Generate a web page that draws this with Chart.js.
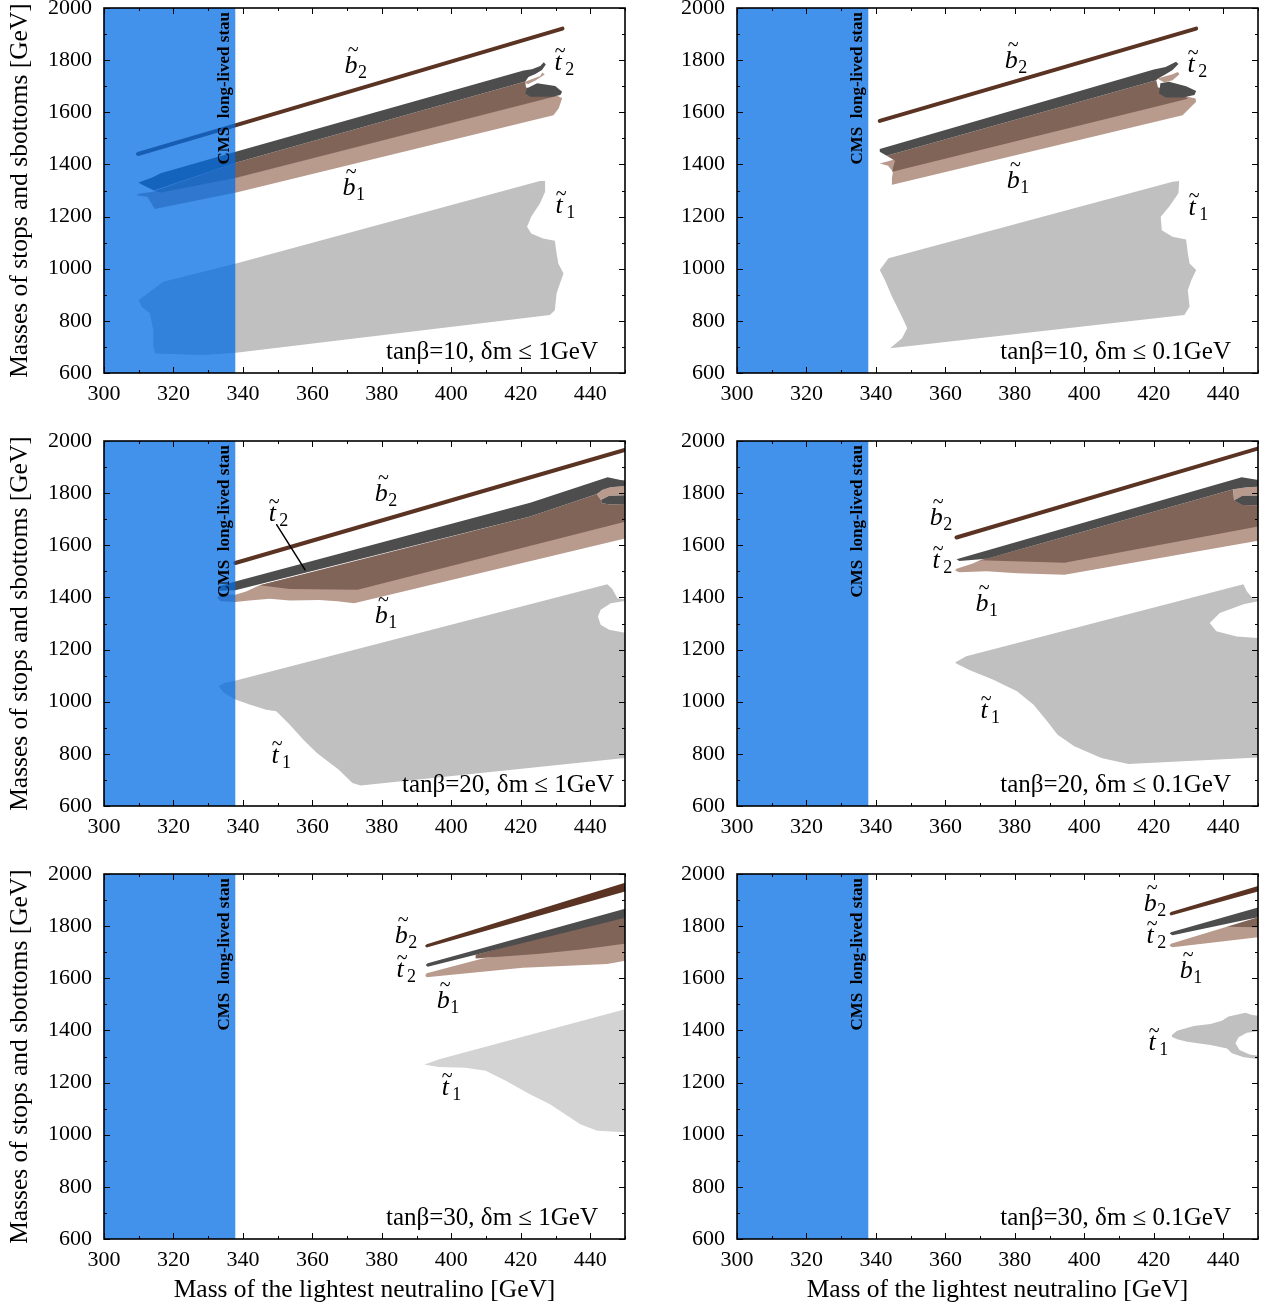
<!DOCTYPE html>
<html>
<head>
<meta charset="utf-8">
<script src="https://cdn.jsdelivr.net/npm/chart.js@4.4.1/dist/chart.umd.min.js"></script>
<style>
  body { margin: 0; background: #fff; width: 1282px; height: 1309px; position: relative; overflow: hidden; }
  .panel { position: absolute; width: 640px; }
</style>
</head>
<body>
<div class="panel" style="left:0;top:0"><canvas id="c1" width="640" height="433"></canvas></div>
<div class="panel" style="left:633px;top:0"><canvas id="c2" width="640" height="433"></canvas></div>
<div class="panel" style="left:0;top:433px"><canvas id="c3" width="640" height="433"></canvas></div>
<div class="panel" style="left:633px;top:433px"><canvas id="c4" width="640" height="433"></canvas></div>
<div class="panel" style="left:0;top:866px"><canvas id="c5" width="640" height="443"></canvas></div>
<div class="panel" style="left:633px;top:866px"><canvas id="c6" width="640" height="443"></canvas></div>
<script>
// axes
var xTicks = [300, 320, 340, 360, 380, 400, 420, 440];
var yTicks = [600, 800, 1000, 1200, 1400, 1600, 1800, 2000];
var cmsEdge = 337.8;
var cmsExcluded = [[290, 580], [cmsEdge, 580], [cmsEdge, 2020], [290, 2020]];

// tanβ=10, δm ≤ 1GeV
var p1Sbottom2 = [[309.8, 1440], [337.8, 1550], [432.0, 1921]];
var p1Stop2 = [[309.9, 1331], [313.9, 1350], [316.3, 1366], [338.4, 1451], [420.8, 1760], [423.2, 1765], [425.6, 1778], [426.6, 1792], [427.2, 1783], [426.1, 1762], [424.2, 1747], [422.2, 1735], [421.3, 1718], [338.4, 1408], [314.4, 1300], [311.0, 1322]];
var p1Stop2Lobe = [[421.3, 1673], [421.8, 1692], [424.7, 1711], [429.9, 1701], [431.9, 1679], [431.4, 1666], [429.0, 1660], [422.7, 1660]];
var p1Overlap = [[314.4, 1298], [338.4, 1408], [421.3, 1718], [421.5, 1695], [428.0, 1680], [430.4, 1662], [338.4, 1350], [316.5, 1292]];
var p1Sbottom1 = [[309.6, 1287], [309.6, 1281], [312.5, 1276], [313.9, 1244], [314.6, 1229], [338.4, 1293], [429.4, 1589], [430.9, 1615], [431.9, 1654], [430.4, 1664], [338.4, 1352], [314.4, 1296]];
var p1Sbottom1Wisp = [[421.0, 1716], [425.6, 1739], [426.2, 1753], [426.9, 1745], [424.2, 1722], [422.0, 1708]];
var p1Stop1 = [[310.0, 880], [317.1, 950], [338.0, 1020], [425.5, 1336], [427.0, 1336], [427.0, 1295], [425.5, 1250], [423.0, 1199], [421.8, 1161], [423.0, 1135], [426.4, 1116], [429.8, 1107], [430.3, 1059], [430.8, 1020], [432.3, 982], [431.3, 944], [430.3, 905], [429.8, 841], [428.4, 822], [338.0, 678], [328.3, 669], [314.7, 675], [314.2, 701], [314.2, 765], [313.2, 829], [310.8, 854]];
var p1Labels = [['b', '2', 372.3, 1781], ['t', '2', 431.9, 1793], ['b', '1', 371.7, 1313], ['t', '1', 432.2, 1244]];

// tanβ=10, δm ≤ 0.1GeV
var p2Sbottom2 = [[341.1, 1567], [432.2, 1921]];
var p2Stop2 = [[341.1, 1459], [420.0, 1764], [423.4, 1774], [426.4, 1794], [427.1, 1785], [425.4, 1762], [423.4, 1746], [421.2, 1730], [420.7, 1723], [343.1, 1433], [341.1, 1449]];
var p2Stop2Lobe = [[421.5, 1672], [421.9, 1711], [424.4, 1717], [429.3, 1700], [432.2, 1682], [431.7, 1666], [428.3, 1657], [423.4, 1657]];
var p2Overlap = [[343.1, 1433], [420.7, 1723], [421.2, 1695], [428.0, 1675], [429.8, 1652], [344.7, 1372], [345.0, 1391], [345.5, 1414]];
var p2Sbottom1 = [[341.1, 1404], [343.5, 1412], [420.0, 1700], [429.8, 1660], [432.0, 1653], [432.2, 1640], [428.3, 1589], [344.4, 1321], [344.6, 1347], [344.9, 1372], [343.5, 1395]];
var p2Sbottom1Wisp = [[421.0, 1730], [425.4, 1746], [426.9, 1755], [427.4, 1746], [425.4, 1723], [423.0, 1714]];
var p2Stop1 = [[341.1, 995], [343.6, 1040], [425.4, 1334], [427.3, 1336], [427.1, 1289], [424.4, 1238], [422.0, 1199], [422.3, 1148], [425.4, 1123], [429.3, 1112], [429.8, 1059], [430.3, 1020], [432.2, 995], [430.8, 956], [429.8, 918], [430.3, 854], [428.8, 822], [344.1, 695], [347.5, 733], [349.0, 772], [347.5, 816], [344.6, 893], [342.6, 956]];
var p2Labels = [['b', '2', 380.1, 1801], ['t', '2', 431.9, 1785], ['b', '1', 380.7, 1340], ['t', '1', 432.2, 1237]];

// tanβ=20, δm ≤ 1GeV
var p3Sbottom2 = [[337.8, 1532], [452, 1974]];
var p3Pointer = [[349.7, 1679], [357.9, 1506]];
var p3Stop2 = [[333.1, 1443], [337.8, 1461], [422.7, 1763], [445.0, 1861], [448.7, 1850], [452, 1846], [452, 1829], [445.8, 1823], [443.4, 1812], [441.9, 1797], [422.7, 1710], [337.8, 1428], [333.1, 1426]];
var p3Stop2Lobe = [[443.1, 1774], [445.3, 1789], [452, 1793], [452, 1760], [445.8, 1756], [443.4, 1761]];
var p3Sbottom1Wisp = [[441.9, 1797], [443.4, 1812], [445.8, 1823], [452, 1829], [452, 1793], [445.3, 1789], [443.1, 1774]];
var p3Overlap = [[344.8, 1447], [422.7, 1710], [441.9, 1797], [443.1, 1774], [443.4, 1761], [445.8, 1756], [452, 1760], [452, 1697], [373.0, 1429], [353.5, 1432]];
var p3Sbottom1 = [[332.5, 1399], [333.6, 1413], [337.8, 1410], [340.9, 1423], [344.8, 1447], [422.7, 1700], [452, 1720], [452, 1632], [372.0, 1378], [367.2, 1385], [361.9, 1390], [353.5, 1388], [347.7, 1395], [341.9, 1388], [337.8, 1382], [333.6, 1385]];
var p3Stop1 = [[333.0, 1059], [334.6, 1072], [338.0, 1081], [444.9, 1451], [446.3, 1433], [447.8, 1397], [452, 1390], [445.9, 1378], [443.0, 1353], [442.2, 1327], [443.0, 1295], [445.4, 1276], [452, 1259], [452, 787], [373.9, 679], [371.5, 688], [367.6, 739], [361.3, 803], [357.4, 854], [353.5, 912], [349.6, 963], [346.7, 969], [341.9, 989], [338.0, 1008], [334.6, 1033]];
var p3Labels = [['t', '2', 349.6, 1724], ['b', '2', 381.0, 1801], ['b', '1', 381.0, 1333], ['t', '1', 350.4, 796]];

// tanβ=20, δm ≤ 0.1GeV
var p4Sbottom2 = [[363.2, 1630], [452, 1979]];
var p4Stop2 = [[363.2, 1546], [445.3, 1861], [449.7, 1851], [452, 1849], [452, 1826], [446.8, 1823], [442.9, 1815], [371.9, 1548], [364.0, 1540]];
var p4Stop2Lobe = [[443.1, 1772], [445.5, 1790], [452, 1790], [452, 1753], [445.5, 1755]];
var p4Sbottom1Wisp = [[442.9, 1815], [446.8, 1823], [452, 1826], [452, 1790], [445.5, 1790], [443.1, 1772]];
var p4Overlap = [[369.9, 1543], [371.9, 1548], [442.9, 1815], [443.1, 1772], [445.5, 1755], [452, 1753], [452, 1677], [394.3, 1533]];
var p4Sbottom1 = [[363.2, 1510], [367.9, 1530], [369.9, 1543], [440.0, 1790], [452, 1720], [452, 1622], [394.3, 1487], [380.6, 1493], [371.9, 1500], [364.0, 1497], [362.8, 1503]];
var p4Stop1 = [[362.8, 1150], [366.0, 1174], [445.8, 1451], [446.8, 1423], [448.5, 1397], [452, 1391], [445.8, 1374], [439.0, 1340], [436.1, 1302], [438.0, 1270], [443.9, 1250], [452, 1242], [452, 787], [412.7, 761], [404.9, 784], [397.1, 829], [392.3, 873], [389.3, 925], [385.4, 988], [380.6, 1040], [373.8, 1084], [366.9, 1122], [363.4, 1145]];
var p4Labels = [['b', '2', 358.5, 1708], ['t', '2', 358.5, 1544], ['b', '1', 371.7, 1379], ['t', '1', 372.3, 968]];

// tanβ=30, δm ≤ 1GeV
var p5Sbottom2 = [[392.4, 1724], [392.9, 1731], [452, 1975], [452, 1940], [392.9, 1718]];
var p5Stop2 = [[392.6, 1651], [393.2, 1658], [452, 1874], [452, 1839], [407.0, 1690], [393.2, 1644]];
var p5Overlap = [[407.0, 1676], [425.5, 1694], [438.1, 1711], [449.8, 1732], [452, 1736], [452, 1850], [407.0, 1690]];
var p5Sbottom1 = [[392.5, 1611], [392.9, 1604], [406.0, 1621], [420.6, 1640], [435.2, 1649], [444.9, 1655], [452, 1672], [452, 1760], [409.0, 1676], [392.9, 1619]];
var p5Stop1 = [[392.9, 1272], [396.5, 1289], [452, 1488], [452, 1008], [442.0, 1015], [437.1, 1040], [428.4, 1117], [422.6, 1155], [415.8, 1206], [409.9, 1245], [404.1, 1257], [396.3, 1260], [392.9, 1267], [392.2, 1270]];
var p5Labels = [['b', '2', 386.7, 1766], ['t', '2', 386.4, 1636], ['b', '1', 398.8, 1517], ['t', '1', 399.4, 1183]];

// tanβ=30, δm ≤ 0.1GeV
var p6Sbottom2 = [[424.5, 1848], [424.9, 1854], [452, 1962], [452, 1940], [424.9, 1841]];
var p6Stop2 = [[424.6, 1771], [424.9, 1777], [452, 1879], [452, 1840], [425.4, 1765]];
var p6Overlap = [[441.0, 1798], [452, 1842], [452, 1795]];
var p6Sbottom1 = [[424.5, 1725], [424.9, 1732], [441.0, 1798], [452, 1820], [452, 1761], [425.4, 1719]];
var p6Stop1 = [[425.2, 1382], [426.7, 1399], [431.5, 1417], [436.3, 1425], [439.6, 1437], [441.5, 1453], [446.4, 1468], [448.3, 1459], [452, 1453], [452, 1400], [446.8, 1391], [444.4, 1374], [443.5, 1351], [444.7, 1325], [447.6, 1308], [452, 1298], [452, 1287], [445.9, 1297], [442.5, 1312], [441.1, 1331], [436.3, 1344], [429.6, 1357], [426.7, 1366], [425.2, 1376]];
var p6Labels = [['b', '2', 420.1, 1889], ['t', '2', 420.1, 1766], ['b', '1', 430.5, 1632], ['t', '1', 420.7, 1356]];

var colCms = 'rgba(0,108,230,0.74)';
var colSbottom2 = '#5a3323';
var colStop2 = '#4d4d4d';
var colOverlap = '#806458';
var colSbottom1 = '#b99b8e';
var colStop1 = '#c0c0c0';
var colStop1Pale = '#d3d3d3';
var serif = '"Liberation Serif", "Times New Roman", serif';

function toXY(pts) {
  return pts.map(function (p) { return {x: p[0], y: p[1]}; });
}

function area(pts, color) {
  return {data: toXY(pts), backgroundColor: color, borderColor: 'rgba(0,0,0,0)', borderWidth: 0,
          fill: 'shape', pointRadius: 0, tension: 0};
}

function curve(pts, color, width) {
  return {data: toXY(pts), borderColor: color, borderWidth: width, backgroundColor: color,
          fill: false, pointRadius: 0, tension: 0, borderCapStyle: 'round'};
}

// particle label: letter with tilde and subscript
function drawLabel(ctx, px, py, letter, sub) {
  ctx.fillStyle = '#000';
  ctx.textBaseline = 'alphabetic';
  ctx.textAlign = 'center';
  ctx.font = 'italic 26px ' + serif;
  ctx.fillText(letter, px - 4, py + 8);
  ctx.font = '20px ' + serif;
  ctx.fillText('~', px - 2, letter == 'b' ? py - 9 : py - 5);
  ctx.textAlign = 'left';
  ctx.font = '18px ' + serif;
  ctx.fillText(sub, px + 3, py + 13);
}

var panelDeco = {
  id: 'panelDeco',
  afterDraw: function (chart, args, o) {
    var ctx = chart.ctx, a = chart.chartArea;
    var xs = chart.scales.x, ys = chart.scales.y;
    ctx.save();

    // inward ticks on all four sides
    ctx.strokeStyle = '#000';
    ctx.lineWidth = 1;
    ctx.beginPath();
    for (var v = 300; v <= 450; v += 10) {
      var px = Math.round(xs.getPixelForValue(v)) + 0.5;
      var len = v % 20 == 0 ? 6 : 3;
      ctx.moveTo(px, a.bottom); ctx.lineTo(px, a.bottom - len);
      ctx.moveTo(px, a.top); ctx.lineTo(px, a.top + len);
    }
    for (var w = 600; w <= 2000; w += 100) {
      var py = Math.round(ys.getPixelForValue(w)) + 0.5;
      var l2 = w % 200 == 0 ? 6 : 3;
      ctx.moveTo(a.left, py); ctx.lineTo(a.left + l2, py);
      ctx.moveTo(a.right, py); ctx.lineTo(a.right - l2, py);
    }
    ctx.stroke();
    ctx.lineWidth = 1.6;
    ctx.strokeRect(a.left, a.top, a.right - a.left, a.bottom - a.top);

    // label of the excluded band
    ctx.save();
    ctx.translate(xs.getPixelForValue(cmsEdge) - 11, a.top + 4);
    ctx.rotate(-Math.PI / 2);
    ctx.fillStyle = '#000';
    ctx.font = 'bold 17px ' + serif;
    ctx.textAlign = 'right';
    ctx.textBaseline = 'middle';
    ctx.fillText('CMS  long-lived stau', 0, 0);
    ctx.restore();

    o.labels.forEach(function (lb) {
      drawLabel(ctx, xs.getPixelForValue(lb[2]), ys.getPixelForValue(lb[3]), lb[0], lb[1]);
    });

    ctx.fillStyle = '#000';
    ctx.font = '25px ' + serif;
    ctx.textAlign = 'right';
    ctx.textBaseline = 'alphabetic';
    ctx.fillText(o.tag, a.right - o.tagRight, a.bottom - 14);

    ctx.font = '25.5px ' + serif;
    ctx.textAlign = 'center';
    ctx.textBaseline = 'middle';
    if (o.xTitle) {
      ctx.fillText('Mass of the lightest neutralino [GeV]', (a.left + a.right) / 2, a.bottom + 51);
    }
    if (o.yTitle) {
      ctx.save();
      ctx.translate(20, (a.top + a.bottom) / 2);
      ctx.rotate(-Math.PI / 2);
      ctx.fillText('Masses of stops and sbottoms [GeV]', 0, 0);
      ctx.restore();
    }
    ctx.restore();
  }
};

function makeChart(id, datasets, deco) {
  var tickFont = {family: serif, size: 22};
  var canvas = document.getElementById(id);
  var axisHeight = canvas.height - 373;
  new Chart(canvas, {
    type: 'line',
    data: {datasets: datasets},
    plugins: [panelDeco],
    options: {
      responsive: false,
      animation: false,
      devicePixelRatio: 1,
      layout: {padding: {top: 8, right: 15, left: 0, bottom: 0}},
      plugins: {legend: {display: false}, tooltip: {enabled: false}, panelDeco: deco},
      scales: {
        x: {
          type: 'linear', min: 300, max: 450,
          grid: {display: false, drawTicks: false},
          border: {display: false},
          ticks: {font: tickFont, color: '#000', padding: 8, maxRotation: 0, autoSkip: false,
                  callback: function (v) { return String(v); }},
          afterBuildTicks: function (s) { s.ticks = xTicks.map(function (v) { return {value: v}; }); },
          afterFit: function (s) { s.height = axisHeight; s.paddingLeft = 0; s.paddingRight = 0; }
        },
        y: {
          type: 'linear', min: 600, max: 2000,
          grid: {display: false, drawTicks: false},
          border: {display: false},
          ticks: {font: tickFont, color: '#000', padding: 12, autoSkip: false,
                  callback: function (v) { return String(v); }},
          afterBuildTicks: function (s) { s.ticks = yTicks.map(function (v) { return {value: v}; }); },
          afterFit: function (s) { s.width = 104; s.paddingTop = 0; s.paddingBottom = 0; }
        }
      }
    }
  });
}

makeChart('c1', [
  area(cmsExcluded, colCms),
  curve(p1Sbottom2, colSbottom2, 4),
  area(p1Stop2Lobe, colStop2),
  area(p1Stop2, colStop2),
  area(p1Sbottom1Wisp, colSbottom1),
  area(p1Overlap, colOverlap),
  area(p1Sbottom1, colSbottom1),
  area(p1Stop1, colStop1)
], {labels: p1Labels, tag: 'tanβ=10, δm ≤ 1GeV', tagRight: 27, yTitle: true, xTitle: false});

makeChart('c2', [
  area(cmsExcluded, colCms),
  curve(p2Sbottom2, colSbottom2, 4),
  area(p2Stop2Lobe, colStop2),
  area(p2Stop2, colStop2),
  area(p2Sbottom1Wisp, colSbottom1),
  area(p2Overlap, colOverlap),
  area(p2Sbottom1, colSbottom1),
  area(p2Stop1, colStop1)
], {labels: p2Labels, tag: 'tanβ=10, δm ≤ 0.1GeV', tagRight: 27, yTitle: false, xTitle: false});

makeChart('c3', [
  area(cmsExcluded, colCms),
  curve(p3Pointer, '#000', 1.5),
  curve(p3Sbottom2, colSbottom2, 4),
  area(p3Stop2Lobe, colStop2),
  area(p3Stop2, colStop2),
  area(p3Sbottom1Wisp, colSbottom1),
  area(p3Overlap, colOverlap),
  area(p3Sbottom1, colSbottom1),
  area(p3Stop1, colStop1)
], {labels: p3Labels, tag: 'tanβ=20, δm ≤ 1GeV', tagRight: 11, yTitle: true, xTitle: false});

makeChart('c4', [
  area(cmsExcluded, colCms),
  curve(p4Sbottom2, colSbottom2, 4),
  area(p4Stop2Lobe, colStop2),
  area(p4Stop2, colStop2),
  area(p4Sbottom1Wisp, colSbottom1),
  area(p4Overlap, colOverlap),
  area(p4Sbottom1, colSbottom1),
  area(p4Stop1, colStop1)
], {labels: p4Labels, tag: 'tanβ=20, δm ≤ 0.1GeV', tagRight: 27, yTitle: false, xTitle: false});

makeChart('c5', [
  area(cmsExcluded, colCms),
  area(p5Sbottom2, colSbottom2),
  area(p5Stop2, colStop2),
  area(p5Overlap, colOverlap),
  area(p5Sbottom1, colSbottom1),
  area(p5Stop1, colStop1Pale)
], {labels: p5Labels, tag: 'tanβ=30, δm ≤ 1GeV', tagRight: 27, yTitle: true, xTitle: true});

makeChart('c6', [
  area(cmsExcluded, colCms),
  area(p6Sbottom2, colSbottom2),
  area(p6Stop2, colStop2),
  area(p6Overlap, colOverlap),
  area(p6Sbottom1, colSbottom1),
  area(p6Stop1, colStop1)
], {labels: p6Labels, tag: 'tanβ=30, δm ≤ 0.1GeV', tagRight: 27, yTitle: false, xTitle: true});
</script>
</body>
</html>
